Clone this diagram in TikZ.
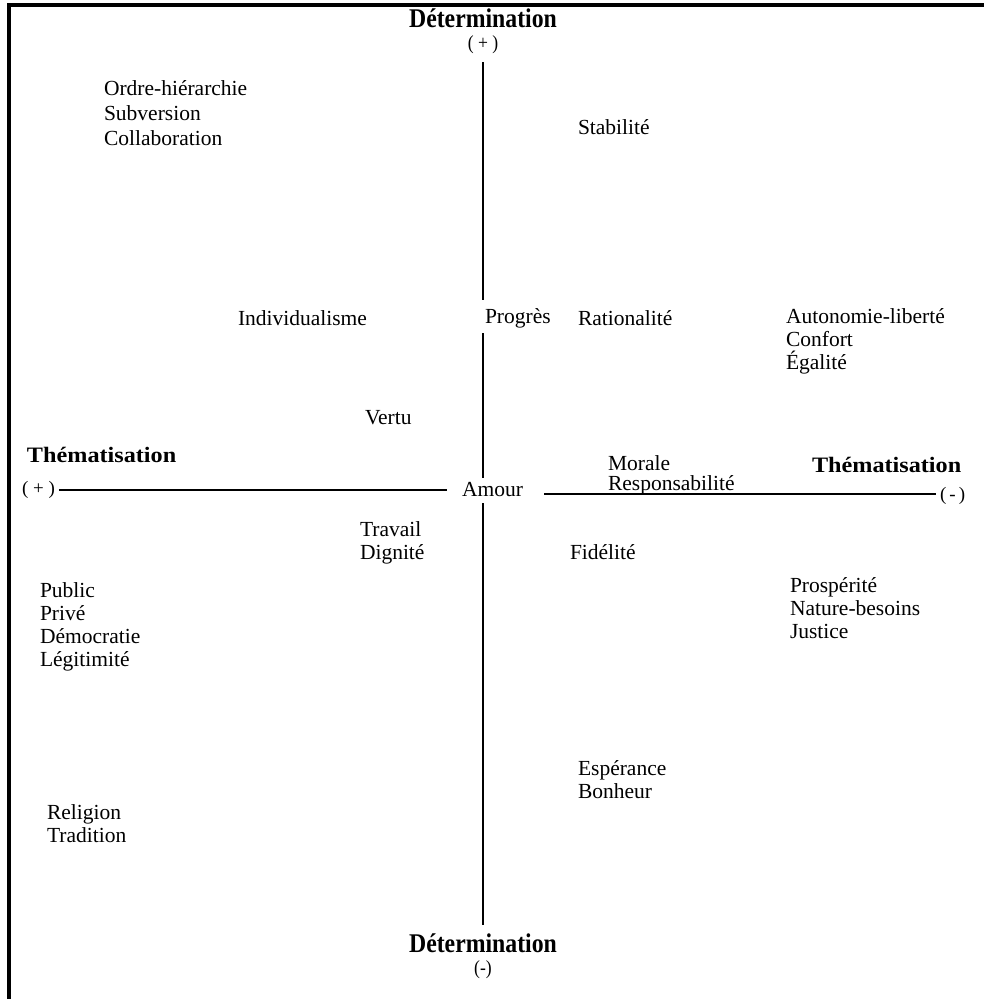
\documentclass[tikz,border=0pt]{standalone}
\usepackage{fontspec}
\setmainfont{Liberation Serif}
\newfontfamily\axisfont{Liberation Serif}[FakeStretch=0.88]
\newfontfamily\themfont{Liberation Serif}[FakeStretch=1.1]
\begin{document}
\begin{tikzpicture}[x=1pt,y=-1pt,
  every node/.style={inner sep=0pt, outer sep=0pt},
  term/.style={anchor=west, align=left, font=\fontsize{21.5}{23}\selectfont},
  axistitle/.style={font=\axisfont\bfseries\fontsize{27}{30}\selectfont},
  pole/.style={font=\axisfont\fontsize{20}{22}\selectfont},
  themtitle/.style={anchor=west, font=\themfont\bfseries\fontsize{22}{24}\selectfont},
  axisline/.style={line width=1.8pt},
  pageframe/.style={fill=black}]
\useasboundingbox (0,0) rectangle (984,999);

% frame along the top and left edges
\fill[pageframe] (7,3) rectangle (984,7);
\fill[pageframe] (7,3) rectangle (11,999);

% vertical axis: Détermination
\node[axistitle] (detT) at (483,18) {Détermination};
\node[pole] (plusT) at (483,45) {( + )};
\node[axistitle] (detB) at (483,943) {Détermination};
\node[pole] (minusB) at (483,970) {(-)};

% horizontal axis: Thématisation
\node[themtitle] (themL) at (27,455) {Thématisation};
\node[term,font=\fontsize{19}{22}\selectfont] (plusL) at (22,490) {( + )};
\node[themtitle] (themR) at (812,465) {Thématisation};
\node[term,font=\fontsize{19}{22}\selectfont] (minusR) at (940,496) {(\,-\,)};

% terms placed on the plane
\node[term] (amour) at (462,490) {Amour};
\node[term] (progres) at (485,318) {Progrès};
\node[term,font=\fontsize{21.5}{25}\selectfont] (ordre) at (104,113) {Ordre-hiérarchie\\Subversion\\Collaboration};
\node[term] (stab) at (578,127) {Stabilité};
\node[term] (indiv) at (238,318) {Individualisme};
\node[term] (ratio) at (578,318) {Rationalité};
\node[term] (auto) at (786,341.5) {Autonomie-liberté\\Confort\\Égalité};
\node[term] (vertu) at (365,418) {Vertu};
\node[term,font=\fontsize{21.5}{20}\selectfont] (morale) at (608,475) {Morale\\Responsabilité};
\node[term] (travail) at (360,543) {Travail\\Dignité};
\node[term] (fidel) at (570,552) {Fidélité};
\node[term] (public) at (40,626.5) {Public\\Privé\\Démocratie\\Légitimité};
\node[term] (prosp) at (790,608) {Prospérité\\Nature-besoins\\Justice};
\node[term] (esper) at (578,780) {Espérance\\Bonheur};
\node[term] (relig) at (47,823.5) {Religion\\Tradition};

% axis segments, interrupted by the labels they cross
\coordinate (vA) at (483,62);
\coordinate (vB) at (483,300);
\coordinate (vC) at (483,333);
\coordinate (vD) at (483,478);
\coordinate (vE) at (483,503);
\coordinate (vF) at (483,925);
\coordinate (hR) at (544,494);
\coordinate (hRend) at ([xshift=-4pt]hR -| minusR.west);
\draw[axisline] (vA) -- (vB);
\draw[axisline] (vC) -- (vD);
\draw[axisline] (vE) -- (vF);
\draw[axisline] ([xshift=4pt]plusL.east) -- ([xshift=-15pt]amour.west);
\draw[axisline] (hR) -- (hRend);
\end{tikzpicture}
\end{document}
